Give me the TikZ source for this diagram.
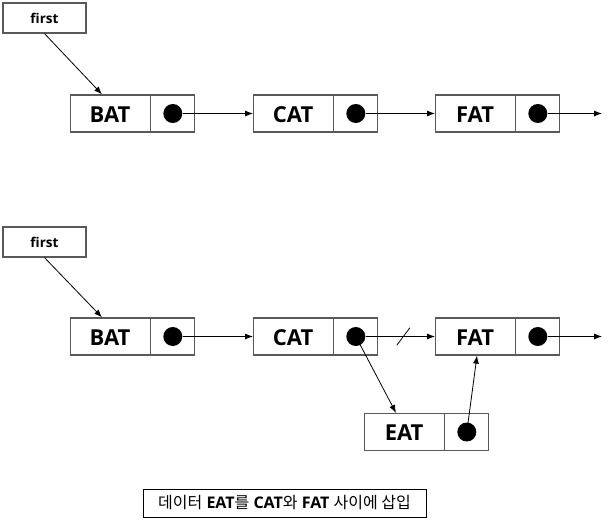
\documentclass[tikz,border=0pt]{standalone}
\usepackage{fontspec}
\setmainfont{Open Sans}
\newfontfamily\kr{Noto Sans CJK KR}
\usetikzlibrary{shapes,arrows.meta,calc}

\begin{document}
\begin{tikzpicture}[x=1pt,y=-1pt,>={Latex[length=8pt,width=6pt]}]
      \tikzstyle{cell}=[rectangle split, rectangle split horizontal, rectangle split parts=2, draw=black!65, line width=1.2pt, inner sep=0pt, text height=27pt, text depth=10pt, anchor=west, font=\bfseries\fontsize{22}{22}\selectfont]
      \tikzstyle{head}=[draw=black!65, line width=1.2pt, minimum width=83pt, minimum height=30pt, inner sep=0pt, font=\bfseries\fontsize{13.5}{13.5}\selectfont]
      \tikzstyle{dot}=[circle, fill=black, inner sep=0pt, minimum size=19pt]
      \tikzstyle{link}=[->, line width=0.8pt]
      \useasboundingbox (0,0) rectangle (609,522);
      % before insertion
      \node[head] (first1) at (44.5,18) {first};
      \node[cell] (bat1) at (70,113.5) {\makebox[79pt]{BAT} \nodepart{two} \makebox[44pt]{}};
      \node[cell] (cat1) at (253,113.5) {\makebox[79pt]{CAT} \nodepart{two} \makebox[44pt]{}};
      \node[cell] (fat1) at (435,113.5) {\makebox[79pt]{FAT} \nodepart{two} \makebox[44pt]{}};
      \node[dot] (batdot1) at ($(bat1.one split)!0.5!(bat1.east)$) {};
      \node[dot] (catdot1) at ($(cat1.one split)!0.5!(cat1.east)$) {};
      \node[dot] (fatdot1) at ($(fat1.one split)!0.5!(fat1.east)$) {};
      \coordinate (end1) at (602,113.5);
      \draw[link] (first1.south) -- ([xshift=32pt]bat1.north west);
      \draw[link] (batdot1) -- (cat1.west);
      \draw[link] (catdot1) -- (fat1.west);
      \draw[link] (fatdot1) -- (end1);
      % after insertion
      \node[head] (first2) at (44.5,242) {first};
      \node[cell] (bat2) at (70,336.5) {\makebox[79pt]{BAT} \nodepart{two} \makebox[44pt]{}};
      \node[cell] (cat2) at (253,336.5) {\makebox[79pt]{CAT} \nodepart{two} \makebox[44pt]{}};
      \node[cell] (fat2) at (435,336.5) {\makebox[79pt]{FAT} \nodepart{two} \makebox[44pt]{}};
      \node[cell] (eat) at (364,432) {\makebox[79pt]{EAT} \nodepart{two} \makebox[44pt]{}};
      \node[dot] (batdot2) at ($(bat2.one split)!0.5!(bat2.east)$) {};
      \node[dot] (catdot2) at ($(cat2.one split)!0.5!(cat2.east)$) {};
      \node[dot] (fatdot2) at ($(fat2.one split)!0.5!(fat2.east)$) {};
      \node[dot] (eatdot) at ($(eat.one split)!0.5!(eat.east)$) {};
      \coordinate (end2) at (602,336.5);
      \draw[link] (first2.south) -- ([xshift=32pt]bat2.north west);
      \draw[link] (batdot2) -- (cat2.west);
      \draw[link] (catdot2) -- (fat2.west);
      \draw[line width=0.8pt] ($(catdot2)!0.6!(fat2.west)$) ++(-6.5,8.7) -- ++(13,-17.4);
      \draw[link] (fatdot2) -- (end2);
      \draw[link] (catdot2.center) -- ([xshift=32pt]eat.north west);
      \draw[link] (eatdot.center) -- ([xshift=42pt]fat2.south west);
      \node[draw=black, line width=1pt, minimum width=283pt, minimum height=28pt, font=\fontsize{16}{16}\selectfont] (caption) at (284.5,503)
        {{\kr 데이터} \textbf{EAT}{\kr 를} \textbf{CAT}{\kr 와} \textbf{FAT} {\kr 사이에 삽입}};
\end{tikzpicture}
\end{document}
